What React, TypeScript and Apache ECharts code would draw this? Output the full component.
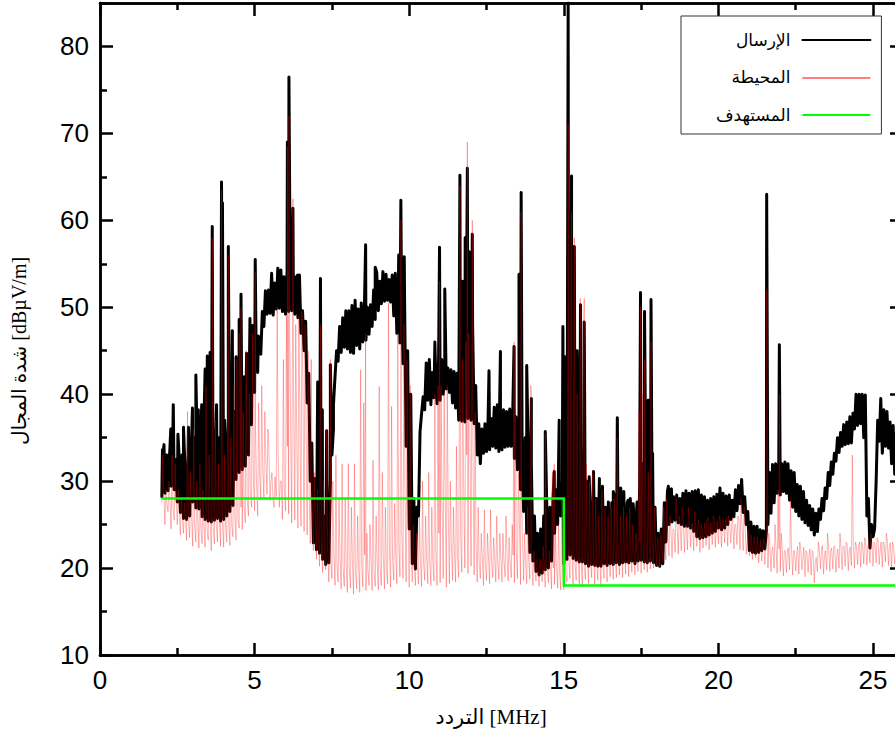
import React, { useEffect, useRef } from "react";
import * as echarts from "echarts";

const txName = "الإرسال";
const ambientName = "المحيطة";
const targetName = "المستهدف";
const xTitle = "التردد [MHz]";
const yTitle = "شدة المجال [dBµV/m]";

const xMajorTicks = [0, 5, 10, 15, 20, 25];
const xMinorTicks = [2.5, 7.5, 12.5, 17.5, 22.5];
const yMajorTicks = [10, 20, 30, 40, 50, 60, 70, 80];
const yMinorTicks = [15, 25, 35, 45, 55, 65, 75, 85];

// Readings every 0.1 MHz from 2.0 MHz up to 26.0 MHz: the lower and upper edge of each trace's band.
const txLow = [
  28.2, 28.6, 28.9, 29.4, 29.0, 27.6, 26.4, 25.7, 25.6, 26.0,
  27.6, 26.9, 26.8, 25.9, 25.6, 25.4, 25.3, 25.5, 25.7, 25.4,
  25.6, 26.0, 26.5, 27.2, 30.2, 31.0, 31.3, 31.7, 33.0, 36.5,
  40.2, 42.5, 44.6, 47.8, 49.2, 49.3, 49.1, 49.8, 49.9, 49.5,
  49.2, 49.5, 49.6, 49.2, 48.8, 47.0, 45.0, 39.0, 30.0, 22.9,
  22.1, 21.7, 21.0, 20.4, 20.6, 33.0, 42.0, 43.8, 44.8, 45.4,
  45.2, 44.8, 44.7, 45.6, 45.2, 46.0, 46.2, 46.9, 47.8, 48.6,
  49.6, 50.4, 50.7, 50.8, 50.6, 49.0, 47.0, 45.9, 43.5, 34.0,
  24.5, 20.5, 19.9, 26.0, 37.8, 38.2, 39.3, 38.8, 39.6, 38.9,
  39.3, 40.0, 40.6, 40.2, 39.0, 38.4, 37.0, 36.9, 36.8, 37.2,
  37.0, 36.6, 33.0, 32.0, 33.2, 33.4, 33.6, 34.0, 33.8, 33.4,
  33.6, 33.9, 34.0, 34.0, 32.6, 31.3, 29.0, 26.5, 24.0, 21.8,
  20.8, 19.6, 19.2, 19.4, 19.8, 20.0, 20.8, 24.0, 25.0, 26.0,
  20.5, 21.0, 21.5, 21.1, 20.9, 20.7, 20.7, 20.5, 20.2, 20.4,
  20.3, 20.2, 20.2, 20.5, 20.3, 20.5, 20.4, 20.6, 20.4, 20.6,
  20.7, 20.6, 20.8, 20.5, 20.8, 20.9, 20.7, 20.6, 20.8, 20.6,
  20.3, 20.2, 20.5, 23.0, 25.0, 25.3, 25.5, 25.2, 25.0, 24.8,
  24.8, 24.6, 24.2, 23.6, 23.4, 23.5, 23.6, 23.8, 24.0, 24.2,
  24.6, 24.4, 24.6, 25.0, 25.6, 25.9, 26.6, 27.4, 26.4, 25.0,
  22.0, 21.8, 21.7, 21.8, 22.0, 22.2, 25.0, 26.3, 27.5, 28.6,
  28.4, 28.8, 28.6, 27.8, 27.0, 26.5, 26.0, 25.6, 25.2, 24.9,
  24.4, 23.8, 24.2, 25.6, 26.6, 28.0, 29.5, 30.8, 32.3, 33.3,
  34.0, 34.2, 34.3, 34.4, 36.0, 36.4, 36.6, 35.0, 26.0, 22.3,
  23.6, 30.0, 34.6, 33.2, 34.0, 33.8, 32.0, 30.8, 30.5, 30.4, 30.6,
];

const txHigh = [
  33.5, 32.5, 33.0, 34.0, 32.5, 33.5, 33.0, 31.5, 33.0, 33.5,
  35.0, 33.0, 34.0, 35.0, 34.0, 37.0, 36.0, 36.0, 35.0, 37.0,
  35.0, 37.0, 36.0, 38.0, 37.0, 39.0, 40.0, 41.0, 42.0, 44.0,
  44.6, 46.5, 49.5, 51.9, 52.0, 53.9, 52.8, 54.5, 54.3, 53.5,
  54.1, 53.8, 54.0, 53.5, 53.7, 49.6, 48.4, 42.4, 34.4, 30.3,
  29.0, 27.0, 26.0, 25.5, 30.0, 36.0, 45.0, 47.8, 48.8, 49.6,
  49.6, 50.2, 50.8, 49.8, 50.5, 49.8, 50.0, 50.3, 52.0, 54.0,
  53.0, 54.1, 53.8, 53.2, 53.7, 53.9, 53.0, 52.0, 51.0, 45.0,
  40.0, 28.0, 27.0, 35.7, 39.7, 43.6, 44.0, 42.5, 43.0, 44.0,
  44.0, 43.4, 43.0, 42.8, 42.6, 42.4, 46.0, 48.0, 50.0, 50.0,
  48.0, 41.0, 36.6, 36.0, 36.6, 37.0, 37.2, 38.5, 38.8, 38.0,
  38.2, 38.0, 38.3, 38.2, 37.4, 36.2, 34.0, 35.0, 33.0, 32.0,
  26.0, 24.0, 24.5, 26.0, 27.0, 27.0, 28.0, 29.0, 29.5, 30.0,
  32.0, 45.0, 50.0, 45.0, 40.0, 34.0, 33.0, 30.0, 27.0, 29.0,
  28.0, 27.0, 29.0, 27.0, 26.0, 27.5, 28.0, 27.0, 27.5, 27.0,
  27.5, 28.0, 27.0, 26.5, 29.0, 32.0, 31.0, 33.0, 30.0, 27.0,
  24.0, 24.5, 27.5, 28.8, 29.0, 28.2, 28.4, 28.0, 28.6, 28.9,
  28.6, 28.8, 28.9, 29.0, 28.4, 28.2, 27.8, 28.0, 28.2, 28.5,
  29.2, 28.6, 28.3, 28.4, 27.8, 29.0, 29.5, 30.2, 28.2, 26.5,
  25.3, 24.8, 24.8, 24.4, 24.3, 24.3, 31.0, 31.9, 32.0, 31.6,
  32.0, 32.2, 32.0, 31.2, 31.0, 29.6, 29.4, 28.8, 27.8, 27.2,
  26.8, 26.3, 26.8, 28.0, 29.2, 31.0, 32.2, 33.2, 35.0, 35.6,
  36.5, 36.8, 37.4, 37.8, 40.0, 40.0, 40.0, 39.9, 28.0, 25.0,
  24.5, 37.0, 39.5, 38.2, 38.0, 36.8, 36.4, 35.5, 34.5, 34.0, 33.8,
];

// Isolated peaks: [MHz, dBµV/m].
const txPeaks = [
  [2.02, 33.6], [2.07, 34.2], [2.16, 33], [2.29, 36], [2.37, 38.8], [2.52, 35.4], [2.7, 36.2], [2.86, 36.2],
  [2.99, 38.4], [3.1, 42.2], [3.18, 38.2], [3.29, 38.8], [3.4, 42.9], [3.47, 44.4], [3.56, 44.8], [3.63, 59.3],
  [3.77, 38.8], [3.93, 64.4], [3.96, 62], [4.03, 37], [4.15, 57], [4.28, 47.3], [4.4, 44.3], [4.5, 48.6],
  [4.56, 51.5], [4.67, 42], [4.74, 44.7], [4.85, 48.7], [4.93, 47.9], [5.02, 55.5], [5.12, 46.7], [6.06, 69],
  [6.11, 76.5], [6.24, 61.4], [6.39, 53.7], [7.04, 41.4], [7.13, 53.3], [7.19, 38.2], [7.33, 35.8], [7.45, 43.4],
  [7.55, 38.8], [8.59, 57.2], [8.9, 54.6], [9.66, 56], [9.73, 62.3], [9.84, 55.8], [10.83, 46], [10.98, 56.9],
  [11.15, 52.1], [11.64, 65.2], [11.73, 53], [11.81, 58], [11.88, 66], [11.94, 56.4], [12.04, 58.4], [12.58, 42.7],
  [12.95, 44.9], [13.39, 45.5], [13.55, 53.8], [13.62, 63.2], [13.8, 43.3], [13.95, 39.5], [14.4, 35.7], [14.69, 31.1],
  [14.85, 37], [14.97, 47.8], [15.04, 44.3], [15.14, 85], [15.25, 65.1], [15.34, 57], [15.43, 45], [15.54, 50.3],
  [15.66, 48.3], [15.82, 30.5], [15.96, 31.1], [16.15, 30.3], [16.25, 29.4], [16.44, 27.6], [16.6, 28.8], [16.73, 37.3],
  [16.84, 29.2], [16.94, 28.8], [17.08, 27.8], [17.24, 27.4], [17.37, 27.6], [17.48, 51.7], [17.61, 49.5], [17.73, 39.3],
  [17.82, 50.9], [17.87, 33.2], [18.38, 29.4], [18.48, 29.1], [21.56, 63], [21.97, 45.7],
];

const ambientLow = [
  27.5, 25.0, 26.5, 24.5, 25.5, 25.0, 23.8, 24.0, 23.2, 23.5,
  22.5, 23.0, 22.3, 22.8, 22.4, 23.2, 22.0, 22.8, 23.0, 22.5,
  22.4, 23.0, 22.6, 23.6, 23.2, 24.6, 24.4, 25.2, 26.0, 27.0,
  26.6, 26.0, 27.8, 28.0, 28.5, 27.8, 27.5, 28.2, 27.0, 25.6,
  26.6, 26.2, 25.2, 25.5, 24.6, 24.8, 24.2, 23.8, 22.8, 22.0,
  21.0, 20.2, 19.5, 19.8, 18.4, 18.8, 18.0, 18.4, 17.6, 17.9,
  17.2, 17.7, 17.0, 17.6, 17.2, 17.8, 17.4, 18.0, 17.4, 17.9,
  17.5, 18.0, 17.6, 18.2, 17.8, 18.6, 18.2, 19.0, 18.8, 18.4,
  17.8, 18.4, 18.0, 18.2, 17.9, 18.6, 18.2, 18.0, 18.5, 18.0,
  18.3, 18.8, 17.8, 18.2, 18.6, 18.4, 18.9, 19.5, 20.0, 19.4,
  20.2, 19.2, 18.4, 18.8, 18.0, 18.6, 18.2, 18.9, 18.4, 18.7,
  18.4, 19.0, 18.5, 18.9, 18.3, 18.8, 18.1, 18.6, 18.2, 18.7,
  18.0, 18.5, 17.9, 18.4, 17.8, 18.3, 17.6, 18.1, 17.7, 17.5,
  17.5, 18.4, 18.8, 18.0, 18.6, 18.2, 17.8, 18.7, 18.2, 18.9,
  18.1, 18.6, 17.9, 18.8, 18.4, 19.0, 18.7, 18.9, 19.2, 18.9,
  19.3, 19.0, 19.5, 19.2, 19.6, 19.4, 19.8, 19.5, 19.9, 20.0,
  20.2, 20.1, 20.6, 20.9, 21.4, 21.2, 21.8, 21.6, 22.0, 21.8,
  22.1, 22.4, 22.0, 22.5, 21.8, 22.3, 22.6, 22.1, 22.7, 22.4,
  22.8, 22.4, 22.9, 22.5, 22.9, 22.2, 22.7, 22.1, 22.0, 21.6,
  21.4, 21.0, 21.2, 20.6, 20.8, 20.4, 20.0, 19.6, 20.0, 19.4,
  19.6, 19.1, 19.5, 19.8, 19.2, 19.7, 19.3, 19.8, 19.0, 19.5,
  19.2, 18.3, 19.6, 19.9, 19.3, 19.8, 19.6, 19.9, 19.5, 20.0,
  19.8, 20.2, 19.7, 20.3, 20.0, 20.4, 20.1, 20.5, 20.3, 20.6,
  20.2, 20.6, 20.4, 20.1, 20.7, 20.3, 20.0, 20.5, 20.2, 20.6, 20.4,
];

const ambientMid = [
  29, 27.5, 28, 27, 28, 27, 26, 26, 25.5, 26,
  25, 25.5, 24.8, 25, 24.6, 25.5, 24.5, 25, 25.5, 25,
  25, 25.6, 25, 26, 25.6, 27, 27, 27.8, 29, 30,
  30, 31, 32, 33, 34, 31, 30.5, 33, 30, 29,
  34, 38, 40, 36, 39, 42, 38, 30, 28, 26,
  24, 23, 22, 22.5, 21, 22, 20.5, 21.5, 20.2, 20.6,
  20, 21, 19.5, 20.5, 20.8, 21.5, 20, 21.5, 19.8, 21,
  20, 21.5, 20, 22, 21, 22, 23, 24, 30, 28,
  21, 20.5, 20.5, 21, 20.8, 21.5, 21, 21, 22, 24,
  28, 30, 27, 23, 22, 21.5, 24, 30, 33, 36,
  34, 23, 21, 21.5, 20.5, 21.5, 21, 21.5, 20.8, 21.5,
  21, 22, 21, 21.5, 22, 26, 24, 21, 21, 22,
  20, 20.5, 19.8, 20.5, 20, 20.5, 20, 20.5, 19.8, 19.8,
  19.5, 21, 22, 20.5, 22, 21, 20, 21.5, 21, 22,
  20.5, 21.5, 20.5, 21.8, 21, 22, 21.5, 22, 22.2, 22,
  22.4, 22, 22.5, 22, 23, 22.6, 23, 22.5, 23, 23.2,
  23, 23.4, 24, 24.5, 24.8, 24.4, 25, 25, 25.4, 25,
  25.4, 25.2, 25.6, 25.6, 25, 25.2, 25.8, 25.2, 25.7, 25.4,
  25.6, 25.5, 25.8, 25.4, 25.8, 25, 25.6, 25, 25, 24.5,
  23.8, 23.6, 23.6, 23.2, 23.4, 23, 22.8, 22.4, 22.6, 22.2,
  22.4, 22, 22.3, 22.6, 22, 22.5, 22.2, 22.4, 21.8, 22.2,
  21.8, 21.2, 22.2, 22.6, 22, 22.5, 22.3, 22.5, 22.2, 22.6,
  22.5, 22.8, 22.4, 22.9, 22.6, 23, 22.7, 23.1, 22.8, 23.2,
  22.8, 23.2, 23, 22.7, 23.2, 22.9, 22.6, 23, 22.8, 23.2, 23,
];

const ambientHigh = [
  33, 29, 30, 33, 32, 29, 28, 27.5, 38, 31,
  36, 30, 32, 29, 41, 33, 38, 37, 32, 36,
  33, 38, 35, 41, 44, 42, 38, 45, 40, 47,
  36, 39, 41, 38, 36, 30, 27, 50, 30, 44,
  49, 49, 50, 48, 49, 49.5, 48, 45, 44, 31,
  29, 47, 30, 36, 26, 30, 33, 28, 32, 28,
  32, 27, 32, 26, 42.8, 39, 24, 25, 32.4, 26,
  40.9, 31, 27, 50.5, 38.6, 27.4, 47, 46, 48, 44,
  41, 25, 24, 26, 30, 26, 31, 27, 40, 41,
  41, 40, 41, 30, 27, 34, 45, 44, 46, 47,
  47, 38, 27, 24, 26.7, 24, 26.7, 23.5, 26, 24,
  24, 26, 23.5, 25, 45.5, 31, 29, 24, 27, 41,
  22, 21, 21, 22.5, 21.5, 22, 31, 24, 25, 28,
  28, 43, 55, 52, 40, 51, 43, 32, 30, 31,
  28, 26, 29, 27, 26, 27, 28, 25, 26, 27,
  26, 27, 25, 24, 38, 40, 37, 31, 30, 27,
  23.5, 24, 27, 28, 26, 24.5, 28, 26, 27, 25,
  27, 25, 26.5, 25, 24.5, 24, 25.5, 24, 26, 25,
  26, 25.5, 25.5, 26, 25, 25, 26, 28, 27, 23,
  22.5, 23, 22, 22, 22.5, 23, 24, 22, 25, 29,
  24, 22, 22, 27.8, 22, 21.5, 23, 21, 22, 21.5,
  22, 20.5, 23, 22, 21.5, 24, 22, 22.5, 21.5, 24,
  22.5, 23, 22, 33, 23, 22.5, 23, 23.5, 22.5, 24,
  23, 23.5, 22, 23, 24, 22.5, 23, 22, 23.5, 22.5, 23,
];

const ambientPeaks = [
  [3.63, 58], [3.93, 63.5], [4.15, 56], [4.5, 47], [4.56, 50], [5.02, 54], [6.06, 68.5], [6.11, 72],
  [6.24, 62.5], [7.13, 48], [7.45, 44], [8.59, 47], [9.73, 60], [10.98, 53], [11.64, 64], [11.88, 69],
  [12.04, 60], [13.39, 46], [13.62, 61], [13.95, 40], [14.4, 35.5], [14.69, 32], [15.14, 71], [15.25, 61],
  [15.34, 58], [15.54, 50], [15.66, 51], [16.73, 35], [17.48, 50], [17.61, 44], [17.82, 46], [21.56, 52], [21.97, 40],
];

const targetFreq = [2, 15, 15, 26];
const targetLevel = [28, 28, 18, 18];

const startFreq = 2;
const stepFreq = 0.1;
const xMin = 0;
const xMax = 25.71;
const yMin = 10;
const yMax = 85;

function txTrace() {
  const pts: number[][] = [];
  txLow.forEach((v, i) => {
    const f = startFreq + stepFreq * i;
    pts.push([f, v]);
    pts.push([f + stepFreq / 2, txHigh[i]]);
  });
  return pts.concat(txPeaks).sort((a, b) => a[0] - b[0]);
}

function ambientTrace() {
  const pts: number[][] = [];
  ambientLow.forEach((v, i) => {
    const f = startFreq + stepFreq * i;
    pts.push([f, v]);
    pts.push([f + stepFreq * 0.3, ambientHigh[i]]);
    pts.push([f + stepFreq * 0.6, ambientMid[i]]);
  });
  return pts.concat(ambientPeaks).sort((a, b) => a[0] - b[0]);
}

const axisLineStyle = { show: true, onZero: false, lineStyle: { color: "#000", width: 2.5 } };
const labelStyle = { fontFamily: "Liberation Sans, Arial, sans-serif", fontSize: 26, color: "#000" };

function tickAxis(position: string, min: number, max: number, interval: number, values: number[], length: number, extra: object = {}) {
  return {
    type: "value",
    position,
    min,
    max,
    interval,
    splitLine: { show: false },
    axisLine: axisLineStyle,
    axisTick: { show: true, inside: true, length, customValues: values, lineStyle: { color: "#000", width: 2.5 } },
    axisLabel: { show: false },
    ...extra,
  };
}

export default function App() {
  const ref = useRef<HTMLDivElement>(null);
  useEffect(() => {
    const chart = echarts.init(ref.current!, undefined, { renderer: "svg" });
    const titleFont = "Liberation Serif, DejaVu Serif, DejaVu Sans, serif";
    chart.setOption({
      animation: false,
      backgroundColor: "#fff",
      grid: { left: 100, top: 3, width: 795, height: 652, containLabel: false, outerBoundsMode: "none" },
      xAxis: [
        tickAxis("bottom", xMin, xMax, 5, xMajorTicks, 12, {
          axisLabel: { show: true, customValues: xMajorTicks, margin: 12, ...labelStyle },
          name: xTitle,
          nameLocation: "middle",
          nameGap: 51,
          nameMoveOverlap: false,
          nameTextStyle: { fontFamily: titleFont, fontSize: 21, color: "#000", padding: [0, 13, 0, 0] },
        }),
        tickAxis("bottom", xMin, xMax, 5, xMinorTicks, 7),
        tickAxis("top", xMin, xMax, 5, xMajorTicks, 13),
        tickAxis("top", xMin, xMax, 5, xMinorTicks, 7),
      ],
      yAxis: [
        tickAxis("left", yMin, yMax, 10, yMajorTicks, 13, {
          axisLabel: { show: true, customValues: yMajorTicks, margin: 11, ...labelStyle },
          name: yTitle,
          nameLocation: "middle",
          nameGap: 71,
          nameMoveOverlap: false,
          nameTextStyle: { fontFamily: titleFont, fontSize: 20, color: "#000", padding: [0, 44, 0, 0] },
        }),
        tickAxis("left", yMin, yMax, 10, yMinorTicks, 7),
        tickAxis("right", yMin, yMax, 10, yMajorTicks, 5, { axisLine: { show: false, onZero: false } }),
      ],
      legend: {
        orient: "vertical",
        left: 681,
        top: 16,
        padding: [15.5, 10, 10.5, 35],
        itemWidth: 68,
        itemHeight: 14,
        itemGap: 20.5,
        align: "right",
        backgroundColor: "#fff",
        borderColor: "#333",
        borderWidth: 1,
        selectedMode: false,
        itemStyle: { opacity: 0 },
        textStyle: { fontFamily: titleFont, fontSize: 17, color: "#000", padding: [0, 7, 0, 0] },
        data: [
          { name: txName },
          { name: ambientName, icon: "path://M0 0M68 14M0 7H68V8H0Z", itemStyle: { color: "#f00", opacity: 1, borderWidth: 0 } },
          { name: targetName },
        ],
      },
      series: [
        {
          name: txName,
          type: "line",
          showSymbol: false,
          symbol: "none",
          data: txTrace(),
          lineStyle: { color: "#000", width: 3, join: "round", cap: "round" },
          itemStyle: { color: "#000" },
        },
        {
          name: ambientName,
          type: "line",
          showSymbol: false,
          symbol: "none",
          data: ambientTrace(),
          lineStyle: { color: "#f00", width: 0.3, join: "round" },
          itemStyle: { color: "#f00" },
        },
        {
          name: targetName,
          type: "line",
          showSymbol: false,
          symbol: "none",
          data: targetFreq.map((f, i) => [f, targetLevel[i]]),
          lineStyle: { color: "#00ff00", width: 2.5, join: "miter" },
          itemStyle: { color: "#00ff00" },
        },
      ],
    });
    return () => chart.dispose();
  }, []);
  return <div ref={ref} style={{ position: "absolute", left: 0, top: 0, width: 895, height: 736, overflow: "hidden" }} />;
}
